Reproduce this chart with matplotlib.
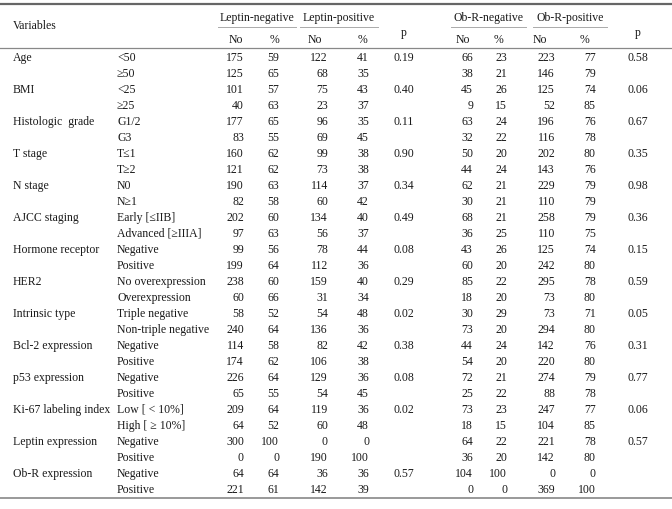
import matplotlib.pyplot as plt

plt.rcParams['font.family'] = ['Liberation Serif', 'DejaVu Serif']

# Table content
variables = ["Age", "BMI", "Histologic  grade", "T stage", "N stage", "AJCC staging",
             "Hormone receptor", "HER2", "Intrinsic type", "Bcl-2 expression",
             "p53 expression", "Ki-67 labeling index", "Leptin expression", "Ob-R expression"]
subgroups = ["<50", "≥50", "<25", "≥25", "G1/2", "G3", "T≤1", "T≥2", "N0", "N≥1",
             "Early [≤IIB]", "Advanced [≥IIIA]", "Negative", "Positive",
             "No overexpression", "Overexpression", "Triple negative", "Non-triple negative",
             "Negative", "Positive", "Negative", "Positive",
             "Low [ < 10%]", "High [ ≥ 10%]", "Negative", "Positive", "Negative", "Positive"]

lep_neg_no = [175, 125, 101, 40, 177, 83, 160, 121, 190, 82, 202, 97, 99, 199,
              238, 60, 58, 240, 114, 174, 226, 65, 209, 64, 300, 0, 64, 221]
lep_neg_pct = [59, 65, 57, 63, 65, 55, 62, 62, 63, 58, 60, 63, 56, 64,
               60, 66, 52, 64, 58, 62, 64, 55, 64, 52, 100, 0, 64, 61]
lep_pos_no = [122, 68, 75, 23, 96, 69, 99, 73, 114, 60, 134, 56, 78, 112,
              159, 31, 54, 136, 82, 106, 129, 54, 119, 60, 0, 190, 36, 142]
lep_pos_pct = [41, 35, 43, 37, 35, 45, 38, 38, 37, 42, 40, 37, 44, 36,
               40, 34, 48, 36, 42, 38, 36, 45, 36, 48, 0, 100, 36, 39]
p_leptin = ["0.19", "0.40", "0.11", "0.90", "0.34", "0.49", "0.08",
            "0.29", "0.02", "0.38", "0.08", "0.02", "", "0.57"]

obr_neg_no = [66, 38, 45, 9, 63, 32, 50, 44, 62, 30, 68, 36, 43, 60,
              85, 18, 30, 73, 44, 54, 72, 25, 73, 18, 64, 36, 104, 0]
obr_neg_pct = [23, 21, 26, 15, 24, 22, 20, 24, 21, 21, 21, 25, 26, 20,
               22, 20, 29, 20, 24, 20, 21, 22, 23, 15, 22, 20, 100, 0]
obr_pos_no = [223, 146, 125, 52, 196, 116, 202, 143, 229, 110, 258, 110, 125, 242,
              295, 73, 73, 294, 142, 220, 274, 88, 247, 104, 221, 142, 0, 369]
obr_pos_pct = [77, 79, 74, 85, 76, 78, 80, 76, 79, 79, 79, 75, 74, 80,
               78, 80, 71, 80, 76, 80, 79, 78, 77, 85, 78, 80, 0, 100]
p_obr = ["0.58", "0.06", "0.67", "0.35", "0.98", "0.36", "0.15",
         "0.59", "0.05", "0.31", "0.77", "0.06", "0.57", ""]

groups = ["Leptin-negative", "Leptin-positive", "Ob-R-negative", "Ob-R-positive"]

fig = plt.figure(figsize=(6.72, 5.09), dpi=100)
ax = fig.add_axes([0, 0, 1, 1])
ax.set_xlim(0, 672)
ax.set_ylim(509, 0)
ax.axis('off')

fs = 8.5
tc = '#1a1a1a'
lc = '#888888'

# layout in pixel units
x_var, x_sub = 13, 117
num_cols = [244, 279, 328, 369, 473, 507, 555, 596]  # right edges of numbers
head_cols = [236, 274, 315, 363, 463, 499, 540, 585]  # centres of No / %
p_cols = [404, 638]
group_spans = [(218, 296), (300, 378), (451, 526), (533, 607)]
y_first, dy = 58, 16.0

# rules
ax.plot([0, 672], [4, 4], color='#666666', lw=1.6)
ax.plot([0, 672], [48, 48], color=lc, lw=0.9)
ax.plot([0, 672], [498, 498], color=lc, lw=1.2)

# header
ax.text(x_var, 26, "Variables", fontsize=fs, color=tc, va='center')
for name, (a, b) in zip(groups, group_spans):
    ax.text((a + b) / 2, 18, name, fontsize=fs, color=tc, ha='center', va='center')
    ax.plot([a, b], [27, 27], color='#aaaaaa', lw=0.7)
for i, xc in enumerate(head_cols):
    label = "No" if i % 2 == 0 else "%"
    ax.text(xc, 40, label, fontsize=fs, color=tc, ha='center', va='center')
for xp in p_cols:
    ax.text(xp, 33, "p", fontsize=fs, color=tc, ha='center', va='center')

# body
columns = [lep_neg_no, lep_neg_pct, lep_pos_no, lep_pos_pct,
           obr_neg_no, obr_neg_pct, obr_pos_no, obr_pos_pct]
for r, sub in enumerate(subgroups):
    y = y_first + r * dy
    if r % 2 == 0:
        ax.text(x_var, y, variables[r // 2], fontsize=fs, color=tc, va='center')
        ax.text(p_cols[0], y, p_leptin[r // 2], fontsize=fs, color=tc, ha='center', va='center')
        ax.text(p_cols[1], y, p_obr[r // 2], fontsize=fs, color=tc, ha='center', va='center')
    ax.text(x_sub, y, sub, fontsize=fs, color=tc, va='center')
    for xr, col in zip(num_cols, columns):
        ax.text(xr, y, str(col[r]), fontsize=fs, color=tc, ha='right', va='center')

fig.savefig('out.png', dpi=100)
